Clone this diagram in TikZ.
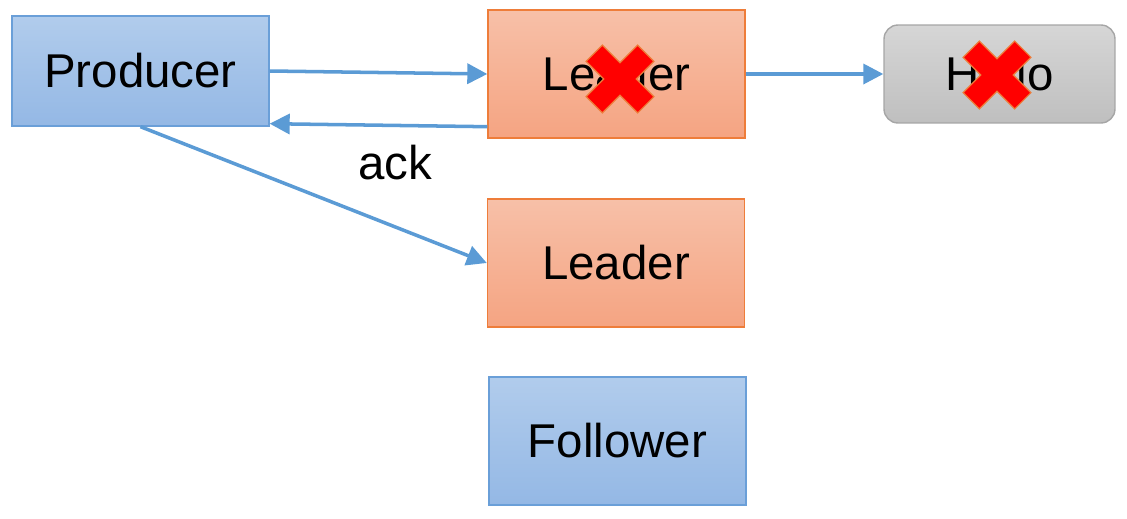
\documentclass[tikz,border=0pt]{standalone}
\usepackage{fontspec}
\setmainfont{Liberation Sans}
\usetikzlibrary{arrows.meta}
\definecolor{bluetop}{HTML}{B1CCEC}
\definecolor{bluebot}{HTML}{94B8E5}
\definecolor{blueline}{HTML}{6A9FD8}
\definecolor{orangetop}{HTML}{F7C0A8}
\definecolor{orangebot}{HTML}{F5A482}
\definecolor{orangeline}{HTML}{EE7D3A}
\definecolor{graytop}{HTML}{D6D6D6}
\definecolor{graybot}{HTML}{BFBFBF}
\definecolor{grayline}{HTML}{A6A6A6}
\definecolor{arrowblue}{HTML}{5B9BD5}
\newcommand{\crossmark}[1]{%
  \begin{scope}[shift={#1},rotate=45]
    \draw[fill=red,draw=orangeline,line width=0.7pt]
      (11.5,11.5) -- (11.5,36.5) -- (-11.5,36.5) -- (-11.5,11.5) -- (-36.5,11.5) -- (-36.5,-11.5)
      -- (-11.5,-11.5) -- (-11.5,-36.5) -- (11.5,-36.5) -- (11.5,-11.5) -- (36.5,-11.5) -- (36.5,11.5) -- cycle;
  \end{scope}}

\begin{document}
\begin{tikzpicture}[x=0.02cm,y=-0.02cm,
    font=\fontsize{27}{32}\selectfont,
    box/.style={rectangle,inner sep=0pt,line width=0.8pt},
    bluebox/.style={box,draw=blueline,top color=bluetop,bottom color=bluebot},
    orangebox/.style={box,draw=orangeline,top color=orangetop,bottom color=orangebot,
        minimum width=5.14cm,minimum height=2.56cm},
    graybox/.style={box,draw=grayline,top color=graytop,bottom color=graybot,rounded corners=0.28cm},
    arrow/.style={-{Triangle[length=0.4cm,width=0.4cm]},draw=arrowblue,fill=arrowblue,line width=2pt}]
        \useasboundingbox (0,0) rectangle (1127,518);
        \node[bluebox,minimum width=5.14cm,minimum height=2.2cm] (prod) at (140.5,71) {Producer};
        \node[orangebox] (lead1) at (616.5,74) {Leader};
        \node[graybox,minimum width=4.62cm,minimum height=1.96cm] (hello) at (999.5,74) {Hello};
        \node[orangebox] (lead2) at (616,263) {Leader};
        \node[bluebox,minimum width=5.14cm,minimum height=2.56cm] (foll) at (617.5,441) {Follower};
        \draw[arrow] (prod.east) -- (lead1.west);
        \draw[arrow] ([yshift=0.24cm]lead1.south west) -- ([yshift=0.06cm]prod.south east);
        \draw[arrow] (prod.south) -- (lead2.west);
        \draw[arrow] (lead1.east) -- (hello.west);
        \node (ack) at (395,163) {ack};
        % failure marks
        \crossmark{(620,79)}
        \crossmark{(997,75)}
    \end{tikzpicture}
\end{document}
